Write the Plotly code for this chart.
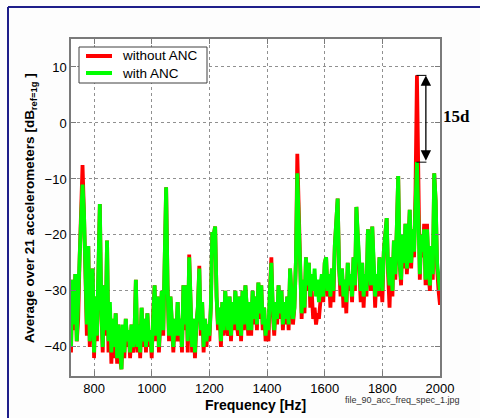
import plotly.graph_objects as go

# Frequency grid (Hz), 5 Hz spacing from 720 to 2000
f_start, f_step = 720, 5

# "with ANC" spectrum (dB ref 1g), 100 Hz per row
with_anc = [
    -40, -28, -36, -27, -39, -33, -24, -17, -11, -16, -30, -36, -22, -39, -34, -26, -41, -31, -38, -21,
    -14.5, -33, -40, -29, -37, -21, -39, -32, -41, -35, -40, -34, -42, -36, -40, -44, -36, -41, -35, -39,
    -37, -41, -36, -40, -38, -28, -40, -36, -41, -33, -39, -35, -40, -34, -39, -37, -41, -34, -29, -38,
    -31, -40, -36, -30, -37, -22, -11.5, -29, -38, -31, -36, -40, -35, -38, -32, -38, -35, -40, -29, -36,
    -29, -39, -24, -31, -40, -35, -41, -36, -33, -26, -37, -32, -40, -35, -39, -36, -38, -33, -19.5, -20,
    -18.5, -31, -36, -33, -39, -32, -37, -30, -35, -37, -31, -38, -32, -36, -30, -35, -37, -31, -38, -30,
    -36, -29, -34, -37, -32, -37, -30, -35, -31, -36, -28.5, -34, -29, -36, -33, -38, -35, -37, -30, -25,
    -33, -37, -32, -35, -29, -34, -30, -36, -32, -35, -31, -36, -26, -30, -35, -33, -25, -9, -17, -30,
    -34, -28, -33, -24, -29, -25, -31, -27, -30, -26, -31, -28, -32, -29, -27, -31, -25, -24, -30, -27,
    -31, -26, -30, -22, -16, -13.5, -26, -29, -26, -31, -28, -32, -25, -29, -27, -31, -24, -29, -15, -20,
    -27, -30, -25, -31, -27, -30, -19, -24, -29, -18.5, -26, -31, -27, -30, -24, -28, -30, -23, -19, -17,
    -26, -29, -24, -30, -21, -27, -19, -9.5, -25, -28, -20, -25, -18, -26, -22, -15.5, -25, -19, -23, -12,
    -7, -17, -27, -20, -23, -19, -28, -19, -26, -29, -22, -27, -9, -14, -25, -28, -30,
]

# "without ANC" spectrum (dB ref 1g)
without_anc = [
    -41, -28, -37, -27, -39, -35, -24, -17, -7.5, -16, -30, -38, -22, -40, -34, -26, -42, -31, -39, -21,
    -14.5, -33, -41, -29, -38, -21, -41, -33, -43, -35, -42, -34, -43, -36, -42, -44, -37, -42, -35, -40,
    -37, -42, -36, -41, -38, -28, -41, -36, -42, -33, -40, -35, -41, -34, -40, -37, -42, -34, -29, -39,
    -31, -41, -36, -30, -38, -22, -11.5, -29, -39, -31, -37, -41, -35, -39, -32, -39, -35, -41, -29, -37,
    -29, -41, -23.5, -31, -41, -35, -42, -36, -33, -25.5, -38, -32, -41, -35, -40, -36, -39, -33, -19.5, -20,
    -18.5, -31, -37, -33, -40, -32, -38, -30, -36, -38, -31, -39, -32, -37, -30, -36, -38, -31, -39, -30,
    -37, -29, -35, -38, -32, -38, -30, -36, -31, -37, -28.5, -35, -29, -37, -33, -39, -36, -39, -30, -24,
    -34, -38, -32, -36, -29, -35, -30, -37, -32, -36, -31, -37, -26, -30, -36, -33, -25, -5.5, -17, -30,
    -35, -28, -34, -24, -30, -25, -33, -30, -35, -33, -36, -34, -35, -32, -28, -32, -25, -24, -31, -28,
    -33, -26, -32, -22, -16, -13.5, -26, -31, -26, -33, -28, -34, -25, -30, -27, -32, -24, -30, -15, -20,
    -28, -32, -25, -33, -27, -31, -19, -24, -30, -18.5, -26, -33, -27, -31, -24, -29, -32, -23, -19, -17,
    -27, -33, -24, -31, -21, -28, -19, -9.5, -25, -29, -20, -26, -18, -27, -22, -15.5, -26, -19, -24, -12,
    8.5, -17, -28, -20, -24, -18, -29, -18, -27, -30, -22, -28, -9, -14, -26, -30, -32.5,
]

freq = [f_start + f_step * i for i in range(len(with_anc))]

x_ticks = [800, 1000, 1200, 1400, 1600, 1800, 2000]
y_ticks = [-40, -30, -20, -10, 0, 10]

series_names = ["without ANC", "with ANC"]
series_colors = ["#ff0000", "#00ff00"]

# annotation values (reduction at ~1920 Hz)
peak_without = 8.5
peak_with = -7
arrow_freq = 1951

W, H = 480, 418
ml, mr, mt, mb = 71, 40, 39, 42
pw, ph = W - ml - mr, H - mt - mb


def px(xp):
    return (xp - ml) / pw


def py(yp):
    return 1 - (yp - mt) / ph


fig = go.Figure()
for name, col, vals in zip(series_names, series_colors, [without_anc, with_anc]):
    fig.add_trace(go.Scatter(x=freq, y=vals, mode="lines", name=name,
                             line=dict(color=col, width=3.8), showlegend=False))

axis_common = dict(
    showline=True, linecolor="#7a7a7a", linewidth=1.5, mirror="ticks",
    ticks="inside", ticklen=5, tickcolor="#7a7a7a",
    showgrid=True, gridcolor="#909090", griddash="dot", gridwidth=1,
    zeroline=False,
    tickfont=dict(family="Liberation Sans, Arial, sans-serif", size=13, color="#000"),
)

fig.update_layout(
    width=W, height=H,
    margin=dict(l=ml, r=mr, t=mt, b=mb),
    paper_bgcolor="#fdfdfd", plot_bgcolor="#ffffff",
    xaxis=dict(range=[720, 2000], tickvals=x_ticks, **axis_common),
    yaxis=dict(range=[-45.2, 15], tickvals=y_ticks, **axis_common),
    showlegend=False,
)

# legend box (drawn manually to match the compact original)
fig.add_shape(type="rect", xref="paper", yref="paper", x0=px(79), x1=px(207),
              y0=py(83), y1=py(47), line=dict(color="#404040", width=1),
              fillcolor="#ffffff", layer="above")
for i, (name, col) in enumerate(zip(series_names, series_colors)):
    yy = 56 + 17 * i
    fig.add_shape(type="line", xref="paper", yref="paper", x0=px(86), x1=px(112),
                  y0=py(yy), y1=py(yy), line=dict(color=col, width=4), layer="above")
    fig.add_annotation(x=px(120), y=py(yy), xref="paper", yref="paper", showarrow=False,
                       text=name, xanchor="left", yanchor="middle",
                       font=dict(family="Liberation Sans, Arial, sans-serif", size=13.5, color="#000"))

# double arrow showing reduction
fig.add_annotation(x=arrow_freq, y=peak_without, ax=arrow_freq, ay=peak_with,
                   xref="x", yref="y", axref="x", ayref="y",
                   text="", showarrow=True, arrowside="end+start",
                   arrowhead=2, arrowsize=1.6, arrowwidth=1.3, arrowcolor="#000")
fig.add_shape(type="line", xref="x", yref="y", x0=1918, x1=arrow_freq + 2,
              y0=peak_without, y1=peak_without, line=dict(color="#000", width=1))
fig.add_shape(type="line", xref="x", yref="y", x0=1918, x1=arrow_freq + 2,
              y0=peak_with, y1=peak_with, line=dict(color="#000", width=1))

fig.add_annotation(x=px(457), y=py(116), xref="paper", yref="paper", showarrow=False,
                   text="<b>15d</b>", xanchor="center", yanchor="middle",
                   font=dict(family="Liberation Serif, Times New Roman, serif", size=17, color="#000"))

# axis titles
fig.add_annotation(x=0.5, y=py(405), xref="paper", yref="paper", showarrow=False,
                   text="<b>Frequency [Hz]</b>", xanchor="center", yanchor="middle",
                   font=dict(family="Liberation Sans, Arial, sans-serif", size=14, color="#000"))
fig.add_annotation(x=px(30), y=py(208), xref="paper", yref="paper", showarrow=False,
                   textangle=-90,
                   text="<b>Average over 21 accelerometers [dB<sub>ref=1g</sub> ]</b>",
                   xanchor="center", yanchor="middle",
                   font=dict(family="Liberation Sans, Arial, sans-serif", size=13.5, color="#000"))
fig.add_annotation(x=px(402), y=py(400), xref="paper", yref="paper", showarrow=False,
                   text="file_90_acc_freq_spec_1.jpg", xanchor="center", yanchor="middle",
                   font=dict(family="Liberation Sans, Arial, sans-serif", size=9, color="#333"))

# outer blue frame (top and left edges visible)
fig.add_shape(type="line", xref="paper", yref="paper", x0=px(8), x1=px(490),
              y0=py(7), y1=py(7), line=dict(color="#1e1e8a", width=2))
fig.add_shape(type="line", xref="paper", yref="paper", x0=px(8), x1=px(8),
              y0=py(7), y1=py(430), line=dict(color="#1e1e8a", width=2))

fig.write_html("out.html", config={"displayModeBar": False},
               post_script="document.body.style.margin='0';document.body.style.overflow='hidden';")
